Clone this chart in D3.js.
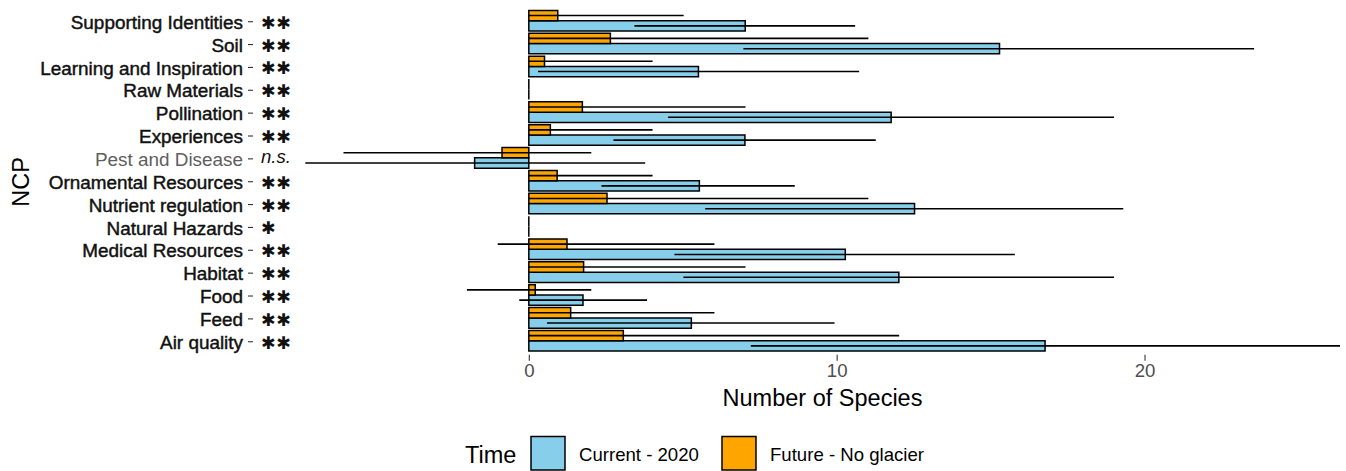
<!DOCTYPE html>
<html>
<head>
<meta charset="utf-8">
<script src="https://cdn.jsdelivr.net/npm/d3@7/dist/d3.min.js"></script>
<style>
  html, body { margin: 0; padding: 0; background: #fff; }
  svg { display: block; font-family: "Liberation Sans", Arial, sans-serif; }
</style>
</head>
<body>
<svg id="chart" width="1346" height="471"></svg>
<script>
// Nature's contributions to people, listed top to bottom
const categories = [
  "Supporting Identities", "Soil", "Learning and Inspiration", "Raw Materials",
  "Pollination", "Experiences", "Pest and Disease", "Ornamental Resources",
  "Nutrient regulation", "Natural Hazards", "Medical Resources", "Habitat",
  "Food", "Feed", "Air quality"
];
const significance = ["**", "**", "**", "**", "**", "**", "n.s.", "**", "**", "*", "**", "**", "**", "**", "**"];

// Current - 2020: mean number of species and interval
const currentMean = [7.03, 15.29, 5.51, 0, 11.77, 7.02, -1.76, 5.54, 12.53, 0, 10.28, 12.02, 1.76, 5.28, 16.77];
const currentLow  = [3.43, 6.97, 0.30, 0, 4.52, 2.75, -7.26, 2.36, 5.73, 0, 4.73, 5.02, -0.31, 0.59, 7.21];
const currentHigh = [10.60, 23.56, 10.73, 0, 19.01, 11.27, 3.78, 8.64, 19.31, 0, 15.79, 19.01, 3.84, 9.93, 26.35];

// Future - No glacier
const futureMean = [0.94, 2.65, 0.51, 0, 1.74, 0.70, -0.87, 0.92, 2.54, 0, 1.24, 1.78, 0.21, 1.36, 3.07];
const futureLow  = [0, 0, 0, 0, 0, 0, -6.02, 0, 0, 0, -1.01, 0, -2.01, 0, 0];
const futureHigh = [5.03, 11.03, 4.02, 0, 7.04, 4.02, 2.03, 4.02, 11.03, 0, 6.03, 7.04, 2.03, 6.03, 12.03];

const xTicks = [0, 10, 20];
const groups = ["Future - No glacier", "Current - 2020"];
const legendOrder = ["Current - 2020", "Future - No glacier"];
const colors = { "Current - 2020": "#87CEEB", "Future - No glacier": "#FFA500" };

const rows = [];
categories.forEach((c, i) => {
  rows.push({ cat: c, group: "Current - 2020", mean: currentMean[i], lo: currentLow[i], hi: currentHigh[i] });
  rows.push({ cat: c, group: "Future - No glacier", mean: futureMean[i], lo: futureLow[i], hi: futureHigh[i] });
});

const svg = d3.select("#chart");
const panel = { left: 305, right: 1340, top: 9.27, bottom: 352.17 };

const x = d3.scaleLinear().domain([-7.27, 26.35]).range([panel.left, panel.right]);
const y = d3.scaleBand().domain(categories).range([panel.top, panel.bottom]).padding(0);
const step = y.step();
const yInner = d3.scaleBand().domain(groups).range([step * 0.05, step * 0.95]).padding(0);

// Bars: drawn as paths so that zero-length bars still show their outline
const barG = svg.append("g");
barG.selectAll("path.bar")
  .data(rows)
  .join("path")
  .attr("class", "bar")
  .attr("d", d => {
    const y0 = y(d.cat) + yInner(d.group);
    const y1 = y0 + yInner.bandwidth();
    const a = x(Math.min(0, d.mean)), b = x(Math.max(0, d.mean));
    return `M${a},${y0}H${b}V${y1}H${a}Z`;
  })
  .attr("fill", d => colors[d.group])
  .attr("stroke", "#000")
  .attr("stroke-width", 1.5);

// Error bars
barG.selectAll("line.err")
  .data(rows.filter(d => d.hi !== d.lo))
  .join("line")
  .attr("class", "err")
  .attr("x1", d => x(d.lo))
  .attr("x2", d => x(d.hi))
  .attr("y1", d => y(d.cat) + yInner(d.group) + yInner.bandwidth() / 2)
  .attr("y2", d => y(d.cat) + yInner(d.group) + yInner.bandwidth() / 2)
  .attr("stroke", "#000")
  .attr("stroke-width", 1.6);

// Y axis: category names with short ticks
const yAxis = svg.append("g")
  .attr("transform", "translate(253,0)")
  .call(d3.axisLeft(y).tickSize(5).tickPadding(5));
yAxis.select(".domain").remove();
yAxis.selectAll(".tick line").attr("stroke", "#333").attr("stroke-width", 1.1).attr("transform", "translate(0,1)");
yAxis.selectAll(".tick text")
  .attr("font-family", "'Liberation Sans', Arial, sans-serif")
  .attr("font-size", 18.9)
  .attr("dy", "0.43em")
  .attr("fill", d => d === "Pest and Disease" ? "#5e5e5e" : "#111")
  .attr("stroke", d => d === "Pest and Disease" ? "none" : "#111")
  .attr("stroke-width", 0.45);

// Significance marks beside the names (asterisks drawn with the heavy asterisk glyph)
const isNS = s => s === "n.s.";
svg.append("g").selectAll("text")
  .data(categories)
  .join("text")
  .attr("x", 261)
  .attr("y", (d, i) => y(d) + step / 2 + (isNS(significance[i]) ? 5.6 : 8.0))
  .attr("font-family", (d, i) => isNS(significance[i]) ? "'Liberation Sans', Arial, sans-serif" : "'DejaVu Sans', sans-serif")
  .attr("font-size", (d, i) => isNS(significance[i]) ? 18.6 : 17.5)
  .attr("letter-spacing", (d, i) => isNS(significance[i]) ? 0 : 0.5)
  .attr("font-style", (d, i) => isNS(significance[i]) ? "italic" : "normal")
  .attr("fill", "#111")
  .text((d, i) => isNS(significance[i]) ? significance[i] : significance[i].replace(/\*/g, "\u2731"));

// X axis
const xAxis = svg.append("g")
  .attr("transform", `translate(0,${panel.bottom + 2.5})`)
  .call(d3.axisBottom(x).tickValues(xTicks).tickSize(6).tickPadding(3).tickFormat(d3.format("d")));
xAxis.select(".domain").remove();
xAxis.selectAll(".tick line").attr("stroke", "#333").attr("stroke-width", 1.1);
xAxis.selectAll(".tick text")
  .attr("font-family", "'Liberation Sans', Arial, sans-serif")
  .attr("font-size", 18.6)
  .attr("fill", "#4d4d4d");

// Axis titles
svg.append("text")
  .attr("x", (panel.left + panel.right) / 2)
  .attr("y", 405.5)
  .attr("text-anchor", "middle")
  .attr("font-size", 23.5)
  .attr("fill", "#000")
  .text("Number of Species");

svg.append("text")
  .attr("transform", "translate(28.5,182) rotate(-90)")
  .attr("text-anchor", "middle")
  .attr("font-size", 23.5)
  .attr("fill", "#000")
  .text("NCP");

// Legend
const legend = svg.append("g");
legend.append("text")
  .attr("x", 465).attr("y", 462.5)
  .attr("font-size", 23.5)
  .attr("fill", "#000")
  .text("Time");

const keyX = [531, 722];
legendOrder.forEach((g, i) => {
  legend.append("rect")
    .attr("x", keyX[i]).attr("y", 436.5)
    .attr("width", 34).attr("height", 33.5)
    .attr("fill", colors[g])
    .attr("stroke", "#000").attr("stroke-width", 1.5);
  legend.append("text")
    .attr("x", keyX[i] + 48).attr("y", 460.7)
    .attr("font-size", 18.6)
    .attr("fill", "#000")
    .text(g);
});
</script>
</body>
</html>
